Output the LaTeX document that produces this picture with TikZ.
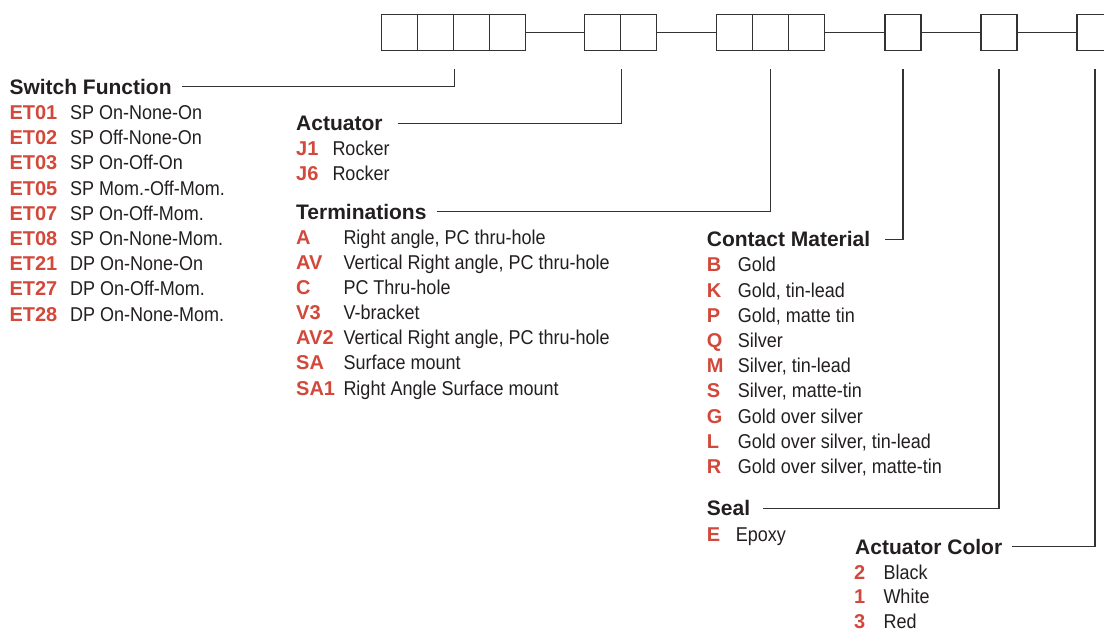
\documentclass[tikz,border=0pt]{standalone}
\usepackage{fontspec}
\setmainfont{Liberation Sans}
\newfontfamily\condensed[FakeStretch=0.9]{Liberation Sans}
\usetikzlibrary{positioning,calc}

\definecolor{codered}{HTML}{D2483A}
\definecolor{ink}{HTML}{231F20}
\definecolor{rule}{HTML}{333333}

\tikzset{
  cell/.style={draw=rule, line width=1.3pt, minimum width=36pt, minimum height=36pt, inner sep=0pt},
  head/.style={anchor=base west, inner sep=0pt, text=ink, font=\fontsize{21}{25}\selectfont\bfseries},
  code/.style={anchor=base west, inner sep=0pt, text=codered, font=\fontsize{20}{24}\selectfont\bfseries},
  desc/.style={anchor=base west, inner sep=0pt, text=ink, font=\fontsize{20}{24}\selectfont\condensed},
  lead/.style={draw=rule, line width=1.2pt},
}

\begin{document}
\begin{tikzpicture}[x=1pt,y=-1pt]
\clip (0,0) rectangle (1104,631);
% part number boxes
\foreach \i in {1,...,4} \node[cell] (a\i) at (363.5+36*\i,32.5) {};
\foreach \i in {1,2} \node[cell] (b\i) at (566.5+36*\i,32.5) {};
\foreach \i in {1,2,3} \node[cell] (c\i) at (698.5+36*\i,32.5) {};
\node[cell] (d) at (903,32.5) {};
\node[cell] (e) at (999,32.5) {};
\node[cell] (f) at (1095,32.5) {};
\draw[lead] (a4) -- (b1);
\draw[lead] (b2) -- (c1);
\draw[lead] (c3) -- (d);
\draw[lead] (d) -- (e);
\draw[lead] (e) -- (f);
\coordinate (ta) at ([yshift=-17.5pt]a2.south east);
\coordinate (tb) at ([yshift=-17.5pt]b1.south east);
\coordinate (tc) at ([yshift=-17.5pt]c2.south);
\coordinate (td) at ([yshift=-17.5pt]d.south);
\coordinate (te) at ([yshift=-17.5pt]e.south);
\coordinate (tf) at ([yshift=-17.5pt]f.south);

% switch function
\node[head] (swfn) at (9.3,94.3) {Switch Function};
\draw[lead] ([xshift=10pt]swfn.east) -| (ta);
\foreach \c/\d [count=\i] in {ET01/SP On-None-On, ET02/SP Off-None-On, ET03/SP On-Off-On,
  ET05/SP Mom.-Off-Mom., ET07/SP On-Off-Mom., ET08/SP On-None-Mom.,
  ET21/DP On-None-On, ET27/DP On-Off-Mom., ET28/DP On-None-Mom.} {
  \node[code] (sw\i) at (9.3,94.3+25.2*\i) {\c};
  \node[desc] (swd\i) at (70,94.3+25.2*\i) {\d};
}

% actuator
\node[head] (act) at (296,130.7) {Actuator};
\draw[lead] ([xshift=15pt]act.east) -| (tb);
\foreach \c/\d [count=\i] in {J1/Rocker, J6/Rocker} {
  \node[code] (ac\i) at (296,130.7+25*\i) {\c};
  \node[desc] (acd\i) at (332.3,130.7+25*\i) {\d};
}

% terminations
\node[head] (term) at (296,219.3) {Terminations};
\draw[lead] ([xshift=10pt]term.east) -| (tc);
\foreach \c/\d [count=\i] in {A/{Right angle, PC thru-hole}, AV/{Vertical Right angle, PC thru-hole},
  C/PC Thru-hole, V3/V-bracket, AV2/{Vertical Right angle, PC thru-hole},
  SA/Surface mount, SA1/Right Angle Surface mount} {
  \node[code] (te\i) at (296,219.3+25.1*\i) {\c};
  \node[desc] (ted\i) at (343.3,219.3+25.1*\i) {\d};
}

% contact material
\node[head] (cmat) at (706.7,246.7) {Contact Material};
\draw[lead] ([xshift=15pt]cmat.east) -| (td);
\foreach \c/\d [count=\i] in {B/Gold, K/{Gold, tin-lead}, P/{Gold, matte tin}, Q/Silver,
  M/{Silver, tin-lead}, S/{Silver, matte-tin}, G/Gold over silver,
  L/{Gold over silver, tin-lead}, R/{Gold over silver, matte-tin}} {
  \node[code] (cm\i) at (706.7,246.7+25.2*\i) {\c};
  \node[desc] (cmd\i) at (737.7,246.7+25.2*\i) {\d};
}

% seal
\node[head] (seal) at (706.7,515.7) {Seal};
\draw[lead] ([xshift=12.7pt]seal.east) -| (te);
\node[code] (se1) at (706.7,541.7) {E};
\node[desc] (sed1) at (735.7,541.7) {Epoxy};

% actuator color
\node[head] (acol) at (855,554.3) {Actuator Color};
\draw[lead] ([xshift=10pt]acol.east) -| (tf);
\foreach \c/\d [count=\i] in {2/Black, 1/White, 3/Red} {
  \node[code] (co\i) at (854,554.3+24.8*\i) {\c};
  \node[desc] (cod\i) at (883.3,554.3+24.8*\i) {\d};
}
\end{tikzpicture}
\end{document}
